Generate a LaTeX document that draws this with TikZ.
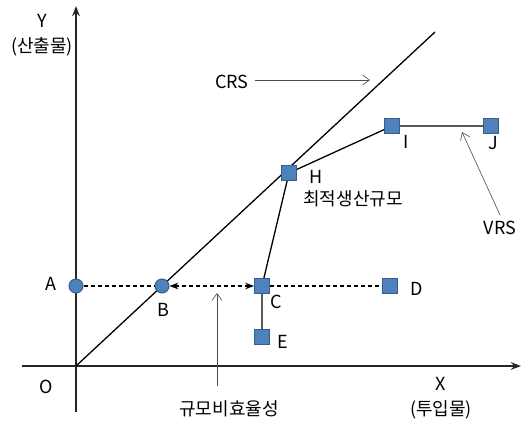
\documentclass[tikz,border=0pt]{standalone}
\usepackage{fontspec}
\setmainfont{Noto Sans CJK KR}
\usetikzlibrary{arrows.meta}
\definecolor{ptfill}{HTML}{4F81BD}
\definecolor{ptdraw}{HTML}{385D8A}

\begin{document}
\begin{tikzpicture}[
  x=1pt, y=-1pt,
  font=\fontsize{18}{25}\selectfont,
  >=Stealth,
  axis/.style={->, line width=1.6pt, black!85},
  frontier/.style={line width=1.3pt},
  gap/.style={dashed, line width=1.3pt, dash pattern=on 4pt off 3pt},
  pointer/.style={-{Straight Barb[length=7pt,width=10pt]}, line width=0.6pt, black!70},
  dot/.style={circle, draw=ptdraw, fill=ptfill, line width=1pt, minimum size=14pt, inner sep=0pt},
  box/.style={rectangle, draw=ptdraw, fill=ptfill, line width=1pt, minimum size=15pt, inner sep=0pt},
  lab/.style={align=center, inner sep=0pt}
]
\path[use as bounding box] (0,0) rectangle (523,423);

% axes and CRS ray
\coordinate (O) at (76,366);
\coordinate (ybot) at (76,412);
\coordinate (ytop) at (76,6);
\coordinate (xbeg) at (22,366);
\coordinate (xend) at (521,366);
\coordinate (crsend) at (435,32);
\draw[axis] (ybot) -- (ytop);
\draw[axis] (xbeg) -- (xend);
\draw[frontier] (O) -- (crsend);

% points
\node[dot] (A) at (76,286) {};
\node[dot] (B) at (162,286) {};
\node[box] (C) at (262,286) {};
\node[box] (D) at (390,286) {};
\node[box] (E) at (262,337) {};
\node[box] (H) at (289,173) {};
\node[box] (I) at (392,126) {};
\node[box] (J) at (491,126) {};

% VRS frontier and gaps
\draw[frontier] (E) -- (C) -- (H) -- (I) -- (J);
\draw[gap] (A) -- (B);
\draw[gap, <->] (B) -- (C);
\draw[gap] (C) -- (D);

% labels
\node[lab] (ylab) at (42,35) {Y\\(산출물)};
\node[lab] (xlab) at (441,398) {X\\(투입물)};
\node[lab] (Olab) at (46,387) {O};
\node[lab] (Alab) at (51,284) {A};
\node[lab] (Blab) at (163,310) {B};
\node[lab] (Clab) at (276,302) {C};
\node[lab] (Dlab) at (417,289) {D};
\node[lab] (Elab) at (283,342) {E};
\node[lab] (Hlab) at (316,177) {H};
\node[lab] (Ilab) at (406,142) {I};
\node[lab] (Jlab) at (493,143) {J};
\node[lab] (opt) at (353,199) {최적생산규모};
\node[lab] (crs) at (232,82) {CRS};
\node[lab] (vrs) at (500,228) {VRS};
\node[lab] (ineff) at (229,409) {규모비효율성};

% pointers
\coordinate (crstip) at (370,80);
\coordinate (vrstip) at (462,132);
\coordinate (inefftip) at (217,293);
\draw[pointer] (crs.east) ++(6,-2) coordinate (crsfrom) -- (crstip);
\draw[pointer] (vrs.north) ++(0,-6) coordinate (vrsfrom) -- (vrstip);
\draw[pointer] (217,386) coordinate (ineffrom) -- (inefftip);
\end{tikzpicture}
\end{document}
